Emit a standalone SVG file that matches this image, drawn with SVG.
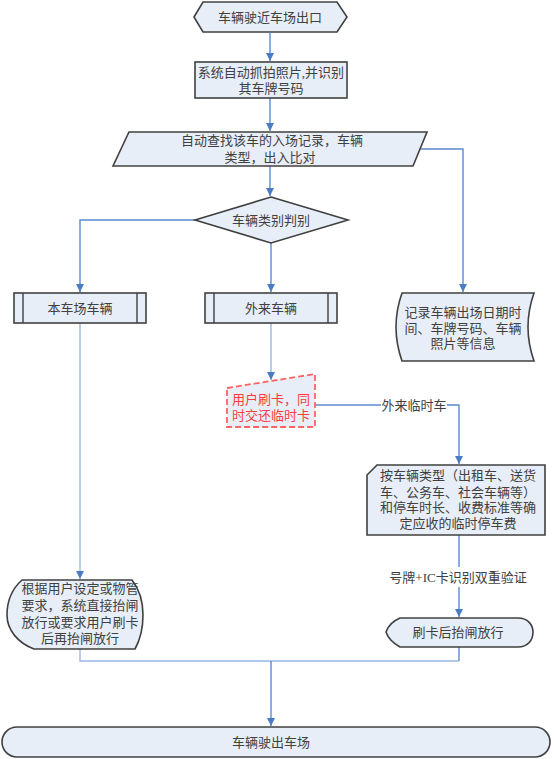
<svg xmlns="http://www.w3.org/2000/svg" width="554" height="759" viewBox="0 0 554 759">
<defs>
<marker id="ah" viewBox="0 0 8 8" refX="8" refY="4" markerWidth="8" markerHeight="8" markerUnits="userSpaceOnUse" orient="auto">
<path d="M0,0 L8,4 L0,8 Z" fill="#4a7cc4"/>
</marker>
<style>
.s{fill:#e8eef7;stroke:#404040;stroke-width:1.6}
.b{fill:none;stroke:#404040;stroke-width:1.4}
.t{font-family:"Liberation Serif","Noto Sans CJK SC",serif;font-size:13px;fill:#404040;text-anchor:middle;dominant-baseline:central}
.c{fill:none;stroke:#5b8bd0;stroke-width:1.4}
.cl{fill:none;stroke:#9ab8e4;stroke-width:1.4}
.a{marker-end:url(#ah)}
</style>
</defs>
<rect width="554" height="759" fill="#ffffff"/>
<g id="connectors">
<path class="c a" d="M270,33 V61"/>
<path class="c a" d="M270,98 V131"/>
<path class="c a" d="M270,166 V196"/>
<path class="c a" d="M421,149 H463 V292"/>
<path class="c a" d="M195,220 H80 V292"/>
<path class="c a" d="M271,243 V292"/>
<path class="cl a" d="M80,323 V579"/>
<path class="cl a" d="M271,323 V380"/>
<path class="c" d="M315,405 H381"/>
<path class="c a" d="M447,405 H459 V464"/>
<path class="c" d="M459,535 V567"/>
<path class="c a" d="M459,587 V617"/>
<path class="c" d="M459,647 V661"/>
<path class="cl" d="M80,649 V661 H459"/>
<path class="c a" d="M271,661 V726"/>
<text class="t" x="414" y="405">外来临时车</text>
<text class="t" x="458" y="577">号牌+IC卡识别双重验证</text>
</g>
<g id="start">
<path class="s" d="M194,17 L203,2 H337 L347,17 L337,32 H203 Z"/>
<text class="t" x="270" y="17">车辆驶近车场出口</text>
</g>
<g id="capture">
<rect class="s" x="195" y="62" width="152" height="36"/>
<text class="t" x="271" y="72">系统自动抓拍照片,并识别</text>
<text class="t" x="271" y="88">其车牌号码</text>
</g>
<g id="lookup">
<path class="s" d="M129,132 H427 L413,166 H113 Z"/>
<text class="t" x="272" y="140">自动查找该车的入场记录，车辆</text>
<text class="t" x="270" y="157">类型，出入比对</text>
</g>
<g id="judge">
<path class="s" d="M271,197 L348,220 L271,243 L195,220 Z"/>
<text class="t" x="271" y="220">车辆类别判别</text>
</g>
<g id="local">
<rect class="s" x="14" y="293" width="132" height="30"/>
<path class="b" d="M23,293 V323 M137,293 V323"/>
<text class="t" x="80" y="308">本车场车辆</text>
</g>
<g id="outside">
<rect class="s" x="205" y="293" width="132" height="30"/>
<path class="b" d="M214,293 V323 M328,293 V323"/>
<text class="t" x="271" y="308">外来车辆</text>
</g>
<g id="record">
<path class="s" d="M402,293 H534 Q522,327 534,361 H402 Q390,327 402,293 Z"/>
<text class="t" x="463" y="312">记录车辆出场日期时</text>
<text class="t" x="463" y="328">间、车牌号码、车辆</text>
<text class="t" x="463" y="343">照片等信息</text>
</g>
<g id="swipe">
<path d="M227,388 L315,374 V427 H227 Z" fill="#e8eef7" stroke="#ff6464" stroke-width="1.8" stroke-dasharray="6,3"/>
<text class="t" x="271" y="399" style="fill:#ff3c3c">用户刷卡，同</text>
<text class="t" x="271" y="415" style="fill:#ff3c3c">时交还临时卡</text>
</g>
<g id="fee">
<path class="s" d="M377,465 H545 V535 H367 V475 Z"/>
<text class="t" x="458" y="475">按车辆类型（出租车、送货</text>
<text class="t" x="458" y="492">车、公务车、社会车辆等）</text>
<text class="t" x="458" y="507">和停车时长、收费标准等确</text>
<text class="t" x="458" y="523">定应收的临时停车费</text>
</g>
<g id="release">
<path class="s" d="M400,618 H518 C528,618 533,625 533,632 C533,640 528,647 518,647 H400 C393,643 388,638 386,632 C388,626 393,621 400,618 Z"/>
<text class="t" x="458" y="632">刷卡后抬闸放行</text>
</g>
<g id="localrelease">
<path class="s" d="M22,580 H132 C139,589 143,602 143,615 C143,628 140,640 135,649 H34 C18,643 7,630 7,615 C7,600 13,588 22,580 Z"/>
<text class="t" x="80" y="588">根据用户设定或物管</text>
<text class="t" x="80" y="605">要求，系统直接抬闸</text>
<text class="t" x="80" y="622">放行或要求用户刷卡</text>
<text class="t" x="80" y="638">后再抬闸放行</text>
</g>
<g id="end">
<rect class="s" x="2" y="727" width="548" height="30" rx="15"/>
<text class="t" x="271" y="742">车辆驶出车场</text>
</g>
</svg>
